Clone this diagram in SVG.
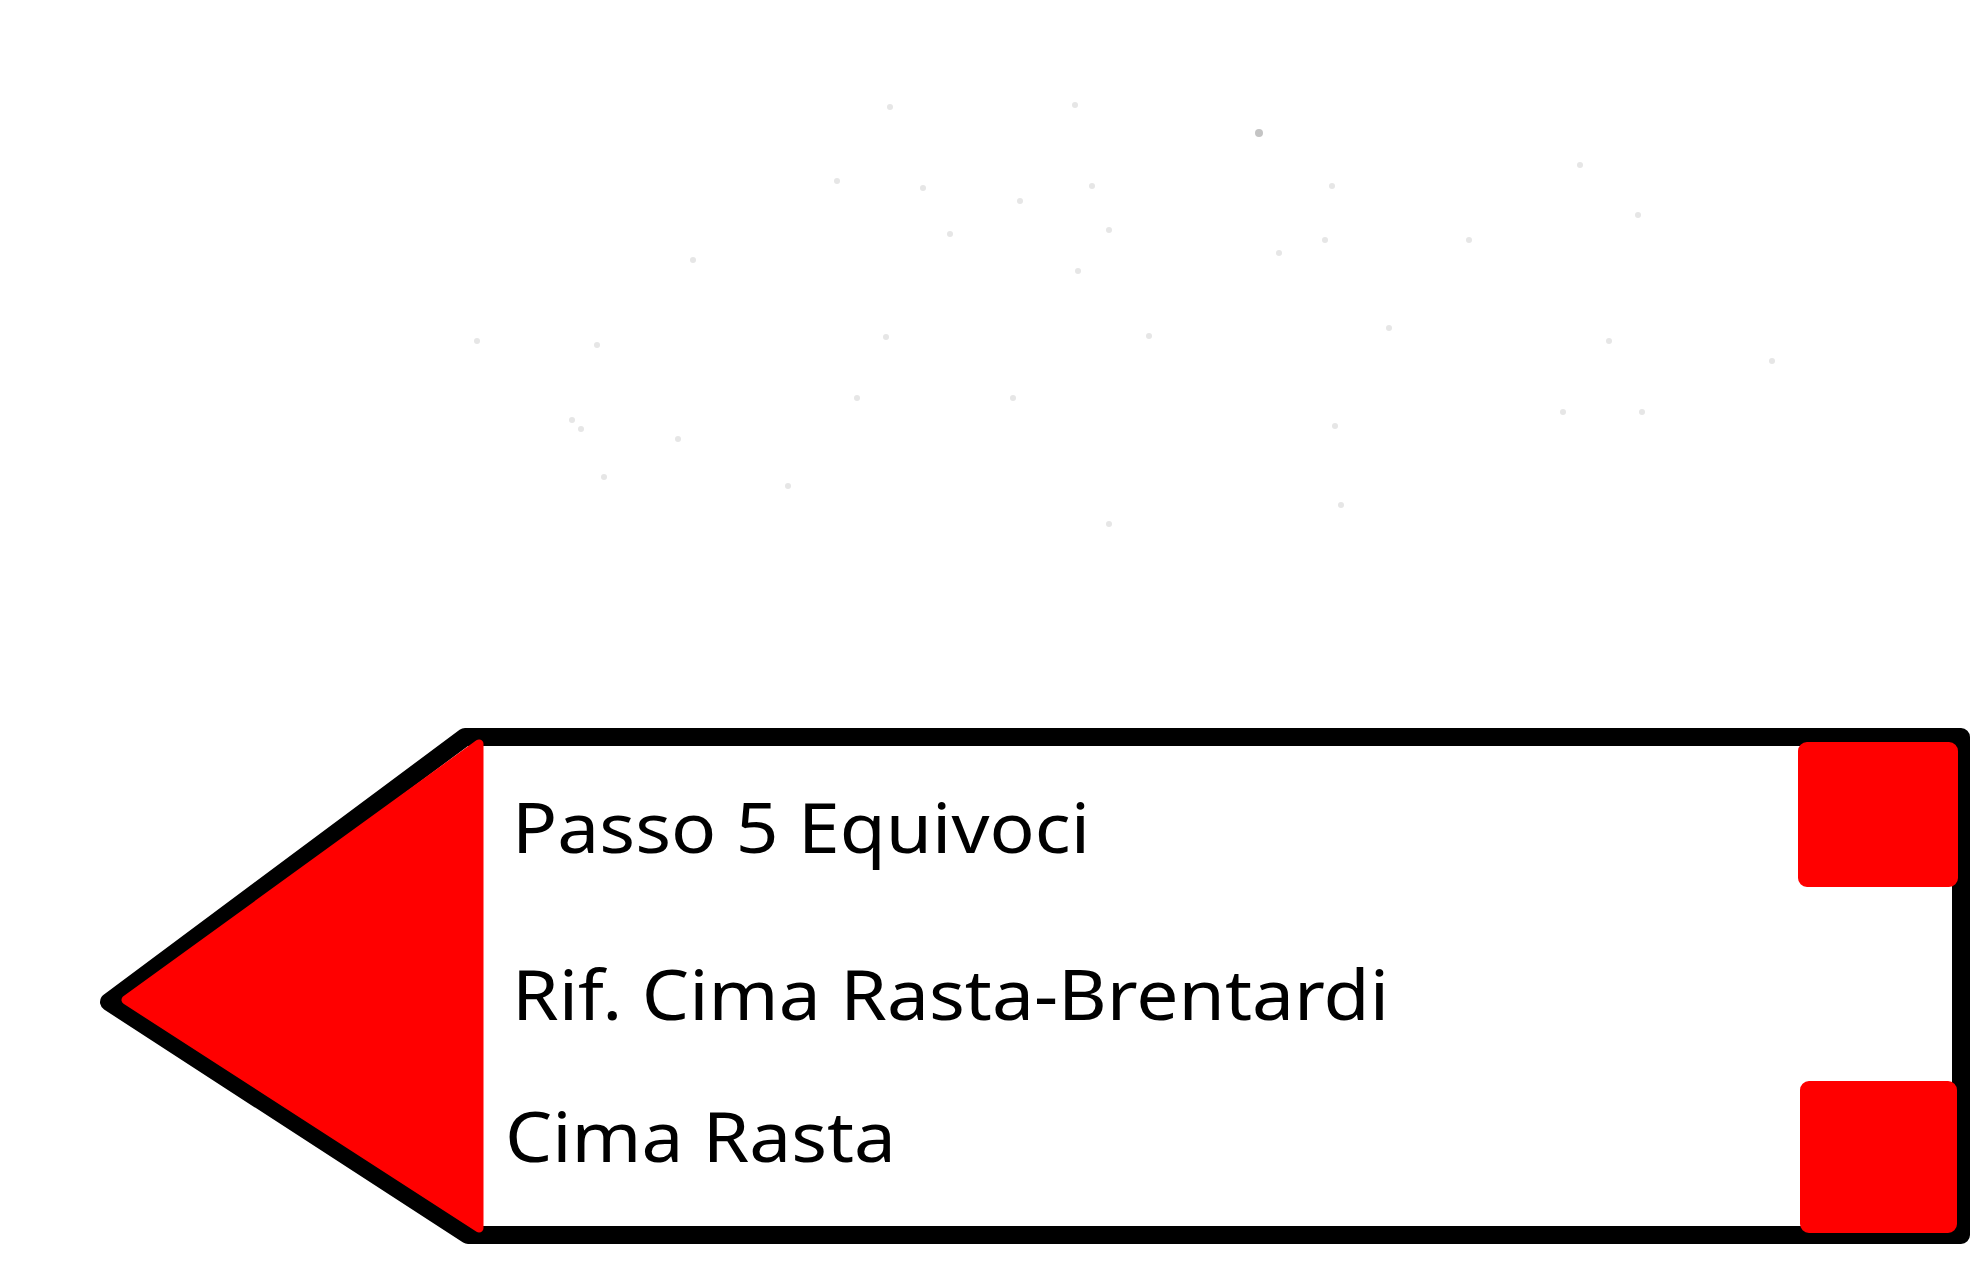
<svg xmlns="http://www.w3.org/2000/svg" width="1980" height="1264" viewBox="0 0 1980 1264">
<style>
.t{font-family:"Noto Sans","Liberation Sans",Arial,sans-serif;font-size:70px;fill:#000}
.dot{fill:#e6e6e6}
.red{fill:#ff0000;stroke:#ff0000;stroke-linejoin:round}
</style>
<rect width="1980" height="1264" fill="#fff"/>
<g id="specks">
<circle class="dot" cx="890" cy="107" r="3"/>
<circle class="dot" cx="1075" cy="105" r="3"/>
<circle cx="1259" cy="133" r="4" fill="#c4c4c4"/>
<circle class="dot" cx="1580" cy="165" r="3"/>
<circle class="dot" cx="837" cy="181" r="3"/>
<circle class="dot" cx="923" cy="188" r="3"/>
<circle class="dot" cx="1020" cy="201" r="3"/>
<circle class="dot" cx="1092" cy="186" r="3"/>
<circle class="dot" cx="1332" cy="186" r="3"/>
<circle class="dot" cx="1638" cy="215" r="3"/>
<circle class="dot" cx="950" cy="234" r="3"/>
<circle class="dot" cx="1109" cy="230" r="3"/>
<circle class="dot" cx="1279" cy="253" r="3"/>
<circle class="dot" cx="1325" cy="240" r="3"/>
<circle class="dot" cx="1469" cy="240" r="3"/>
<circle class="dot" cx="693" cy="260" r="3"/>
<circle class="dot" cx="1078" cy="271" r="3"/>
<circle class="dot" cx="477" cy="341" r="3"/>
<circle class="dot" cx="597" cy="345" r="3"/>
<circle class="dot" cx="886" cy="337" r="3"/>
<circle class="dot" cx="1149" cy="336" r="3"/>
<circle class="dot" cx="1389" cy="328" r="3"/>
<circle class="dot" cx="1609" cy="341" r="3"/>
<circle class="dot" cx="1772" cy="361" r="3"/>
<circle class="dot" cx="857" cy="398" r="3"/>
<circle class="dot" cx="1013" cy="398" r="3"/>
<circle class="dot" cx="1563" cy="412" r="3"/>
<circle class="dot" cx="1642" cy="412" r="3"/>
<circle class="dot" cx="572" cy="420" r="3"/>
<circle class="dot" cx="581" cy="429" r="3"/>
<circle class="dot" cx="678" cy="439" r="3"/>
<circle class="dot" cx="1335" cy="426" r="3"/>
<circle class="dot" cx="604" cy="477" r="3"/>
<circle class="dot" cx="788" cy="486" r="3"/>
<circle class="dot" cx="1341" cy="505" r="3"/>
<circle class="dot" cx="1109" cy="524" r="3"/>
</g>
<g id="sign">
<path d="M109,1002 L465,737 L1961,737 L1961,1235 L468,1235 Z" fill="#fff" stroke="#000" stroke-width="18" stroke-linejoin="round"/>
<path class="red" d="M126,1000 L479,744 L479,1228 Z" stroke-width="9"/>
<rect class="red" x="1799" y="743" width="158" height="143" rx="8" stroke-width="2"/>
<rect class="red" x="1801" y="1082" width="155" height="150" rx="8" stroke-width="2"/>
</g>
<g id="labels">
<text class="t" x="512" y="853" textLength="578" lengthAdjust="spacingAndGlyphs">Passo 5 Equivoci</text>
<text class="t" x="512" y="1020" textLength="877" lengthAdjust="spacingAndGlyphs">Rif. Cima Rasta-Brentardi</text>
<text class="t" x="505" y="1162" textLength="391" lengthAdjust="spacingAndGlyphs">Cima Rasta</text>
</g>
</svg>
